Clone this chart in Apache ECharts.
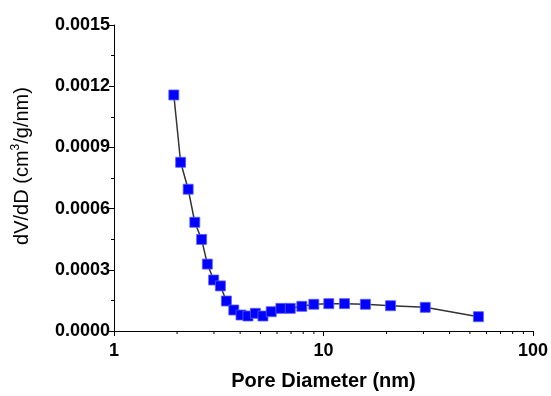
<!DOCTYPE html>
<html><head><meta charset="utf-8">
<script src="https://cdn.jsdelivr.net/npm/echarts@6/dist/echarts.min.js"></script>
<style>html,body{margin:0;padding:0;background:#fff}#c{width:551px;height:396px}</style>
</head><body><div id="c"></div>
<script>
const poreDiameter = [1.93, 2.08, 2.26, 2.43, 2.62, 2.79, 2.99, 3.22, 3.44, 3.73, 4.04, 4.36, 4.73, 5.14, 5.63, 6.26, 6.94, 7.88, 8.99, 10.6, 12.6, 15.85, 20.9, 30.6, 54.9];
const dVdD = [0.001157, 0.000827, 0.000695, 0.000533, 0.000449, 0.000328, 0.000250, 0.000221, 0.000147, 0.000103, 0.0000784, 0.0000735, 0.0000867, 0.0000735, 0.0000946, 0.000111, 0.000111, 0.000121, 0.000131, 0.000134, 0.000134, 0.000131, 0.000124, 0.000116, 0.0000701];
const xMinorTicks = [2,3,4,5,6,7,8,9,20,30,40,50,60,70,80,90];
const yTicks = ['0.0000','0.0003','0.0006','0.0009','0.0012','0.0015'];

const font = 'Liberation Sans, Arial, sans-serif';
const chart = echarts.init(document.getElementById('c'));
chart.setOption({
  animation: false,
  grid: {left: 114, right: 17, top: 25, bottom: 65},
  xAxis: {
    type: 'log', logBase: 10, min: 1, max: 100,
    name: 'Pore Diameter (nm)', nameLocation: 'middle', nameGap: 40,
    nameTextStyle: {fontFamily: font, fontWeight: 'bold', fontSize: 20, color: '#000'},
    axisLine: {lineStyle: {color: '#000', width: 1}},
    axisTick: {show: true, length: 5, lineStyle: {color: '#000'}},
    axisLabel: {fontFamily: font, fontWeight: 'bold', fontSize: 18, color: '#000', margin: 11},
    splitLine: {show: false}
  },
  yAxis: {
    type: 'value', min: 0, max: 0.0015, interval: 0.0003,
    name: '{a|dV/dD (cm}{s|3}{a|/g/nm)}', nameLocation: 'middle', nameGap: 80,
    nameTextStyle: {fontFamily: font, fontSize: 20, color: '#000', padding: [0, 0, 0, 24],
      rich: {a: {fontFamily: font, fontSize: 20, color: '#000'}, s: {fontFamily: font, fontSize: 12, color: '#000', verticalAlign: 'top', padding: [0,0,12,0]}}},
    axisLine: {show: true, lineStyle: {color: '#000', width: 1}},
    axisTick: {show: true, length: 5, lineStyle: {color: '#000'}},
    minorTick: {show: true, splitNumber: 2, length: 3, lineStyle: {color: '#000'}},
    axisLabel: {fontFamily: font, fontWeight: 'bold', fontSize: 18, color: '#000', margin: 4,
      formatter: (v) => yTicks[Math.round(v / 0.0003)]},
    splitLine: {show: false}
  },
  series: [
    {
      type: 'line', data: poreDiameter.map((d, i) => [d, dVdD[i]]),
      symbol: 'rect', symbolSize: 10,
      lineStyle: {color: '#333', width: 1.5},
      itemStyle: {color: '#0000ff', borderColor: '#5a5aff', borderWidth: 0.8},
      z: 3
    },
    {
      type: 'custom', silent: true, clip: false,
      data: xMinorTicks.map(v => [v, 0]),
      renderItem: (params, api) => {
        const p = api.coord([api.value(0), 0]);
        return {type: 'line', shape: {x1: p[0], y1: p[1], x2: p[0], y2: p[1] + 3}, style: {stroke: '#000', lineWidth: 1}};
      }
    }
  ]
});
</script></body></html>
